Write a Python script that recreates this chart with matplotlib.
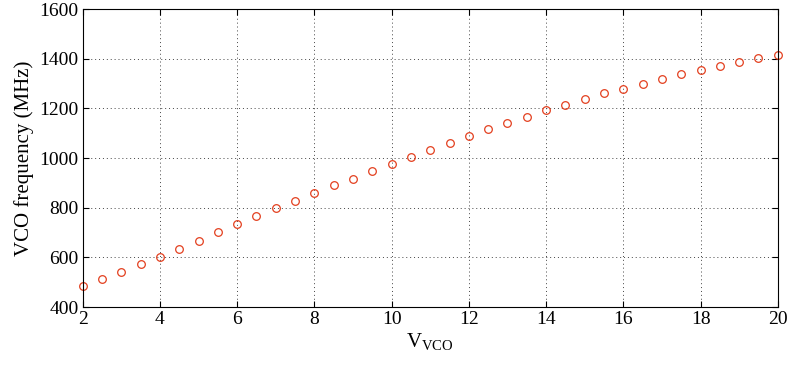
import matplotlib.pyplot as plt

plt.rcParams['font.family'] = ['Liberation Serif', 'DejaVu Serif']

# control voltage and measured VCO frequency
v_vco = [2, 2.5, 3, 3.5, 4, 4.5, 5, 5.5, 6, 6.5, 7, 7.5, 8, 8.5, 9, 9.5, 10,
         10.5, 11, 11.5, 12, 12.5, 13, 13.5, 14, 14.5, 15, 15.5, 16, 16.5,
         17, 17.5, 18, 18.5, 19, 19.5, 20]
freq = [485, 513, 542, 573, 602, 633, 668, 702, 733, 768, 800, 829, 860, 890,
        917, 948, 976, 1004, 1034, 1062, 1089, 1116, 1141, 1165, 1193, 1214,
        1238, 1261, 1280, 1300, 1318, 1337, 1356, 1372, 1389, 1404, 1416]

xticks = [2, 4, 6, 8, 10, 12, 14, 16, 18, 20]
yticks = [400, 600, 800, 1000, 1200, 1400, 1600]

fig = plt.figure(figsize=(7.88, 3.66), dpi=100)
ax = fig.add_axes([0.105, 0.161, 0.882, 0.814])

ax.plot(v_vco, freq, 'o', mfc='none', mec='#e3401f', ms=5.5, mew=0.9, clip_on=False)

ax.set_xlim(2, 20)
ax.set_ylim(400, 1600)
ax.set_xticks(xticks)
ax.set_yticks(yticks)
ax.grid(True, linestyle=(0, (1, 3)), color='#444444', linewidth=0.7)
ax.tick_params(direction='in', length=4, labelsize=14, top=True, right=True, pad=3)
for s in ax.spines.values():
    s.set_linewidth(0.8)

ax.set_xlabel(r'V$_{\mathregular{VCO}}$', fontsize=15, labelpad=2)
ax.set_ylabel('VCO frequency (MHz)', fontsize=15, labelpad=4)

fig.savefig('out.png', dpi=100)
